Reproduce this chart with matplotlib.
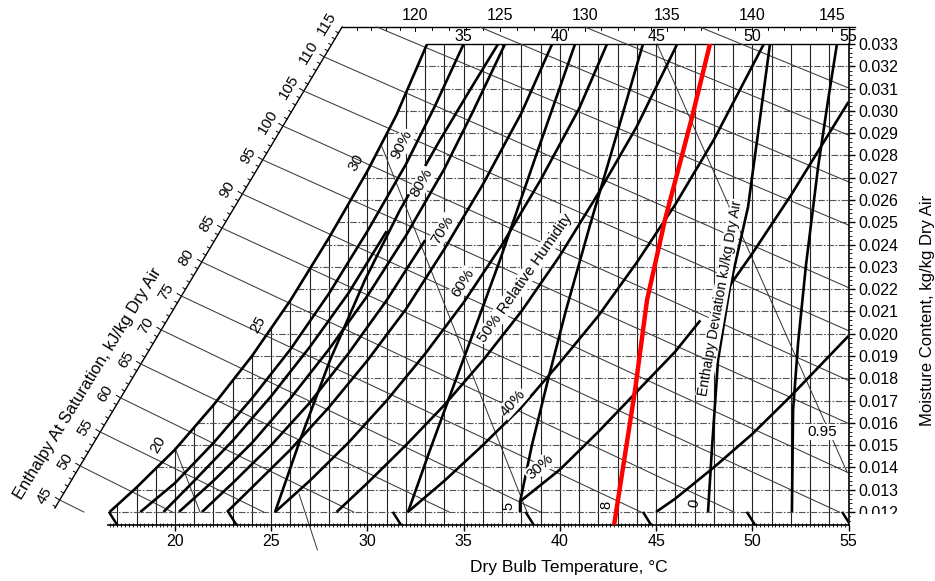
import numpy as np
import matplotlib
matplotlib.use("Agg")
import matplotlib.pyplot as plt
from matplotlib.ticker import MultipleLocator, FormatStrFormatter
from matplotlib.patches import Rectangle

plt.rcParams["font.family"] = ["Liberation Sans", "DejaVu Sans"]

# ---- values (dry bulb degC, moisture kg/kg) ----
sat_T = [16.6, 18.0, 20.0, 22.0, 24.0, 26.0, 28.0, 30.0, 31.5, 33.1]
sat_w = [0.0120, 0.0131, 0.0148, 0.0168, 0.0190, 0.0215, 0.0243, 0.0273, 0.0298, 0.0330]

rh90_T = [18.2, 20.0, 22.0, 24.0, 26.0, 28.0, 30.0, 32.0, 33.5, 35.0]
rh90_w = [0.0120, 0.0133, 0.0151, 0.0171, 0.0193, 0.0218, 0.0246, 0.0276, 0.0302, 0.0330]
rh85_T = [19.4, 21.0, 23.0, 25.0, 27.0, 29.0, 31.0]
rh85_w = [0.0120, 0.0134, 0.0152, 0.0172, 0.0194, 0.0218, 0.0246]
rh80_T = [20.2, 22.0, 24.0, 26.0, 28.0, 30.0, 32.0, 34.0, 35.5, 37.15]
rh80_w = [0.0120, 0.0134, 0.0151, 0.0171, 0.0193, 0.0217, 0.0244, 0.0274, 0.0300, 0.0330]
rh75_T = [21.4, 23.0, 25.0, 27.0, 29.0, 31.0, 33.0]
rh75_w = [0.0120, 0.0133, 0.0150, 0.0169, 0.0191, 0.0215, 0.0242]
rh70_T = [22.7, 24.0, 26.0, 28.0, 30.0, 32.0, 34.0, 36.0, 38.0, 39.6]
rh70_w = [0.0120, 0.0131, 0.0148, 0.0167, 0.0188, 0.0211, 0.0238, 0.0267, 0.0299, 0.0330]
rh60_T = [25.2, 27.0, 29.0, 31.0, 33.0, 35.0, 37.0, 39.0, 41.0, 42.45]
rh60_w = [0.0120, 0.0134, 0.0151, 0.0170, 0.0191, 0.0214, 0.0240, 0.0269, 0.0301, 0.0330]
rh50_T = [28.4, 30.0, 32.0, 34.0, 36.0, 38.0, 40.0, 42.0, 44.0, 46.1]
rh50_w = [0.0120, 0.0133, 0.0150, 0.0168, 0.0188, 0.0210, 0.0235, 0.0263, 0.0293, 0.0330]
rh40_T = [32.1, 34.0, 36.0, 38.0, 40.0, 42.0, 44.0, 46.0, 48.0, 50.6]
rh40_w = [0.0120, 0.0134, 0.0150, 0.0167, 0.0187, 0.0208, 0.0232, 0.0258, 0.0287, 0.0330]
rh30a_T = [37.9, 40.0, 42.0, 44.0, 46.0, 47.3]
rh30a_w = [0.01245, 0.0139, 0.0156, 0.0174, 0.0192, 0.0206]
rh30b_T = [48.7, 50.0, 52.0, 54.0, 55.0]
rh30b_w = [0.0220, 0.0236, 0.0262, 0.0290, 0.0304]
rh20_T = [45.0, 46.0, 48.0, 50.0, 52.0, 54.0, 55.0]
rh20_w = [0.0120, 0.0126, 0.0140, 0.0155, 0.0172, 0.0190, 0.0199]

# steep enthalpy deviation lines
dev1_T = [25.20, 26.50, 28.06, 29.87, 31.69, 33.77, 35.33, 36.79]
dev1_w = [0.0120, 0.01523, 0.01882, 0.02241, 0.02555, 0.02869, 0.03094, 0.0330]
dev2_T = [32.11, 33.25, 34.40, 35.75, 36.89, 38.86, 40.79]
dev2_w = [0.0120, 0.01478, 0.01748, 0.02062, 0.02331, 0.02824, 0.0330]
dev3_T = [37.93, 37.93, 38.55, 39.38, 40.32, 41.57, 42.87, 44.32]
dev3_w = [0.0120, 0.01245, 0.01501, 0.01792, 0.02106, 0.02488, 0.02869, 0.0330]
dev5_T = [47.70, 47.91, 48.22, 48.84, 49.78, 50.30, 50.92]
dev5_w = [0.0120, 0.01492, 0.01882, 0.02210, 0.02569, 0.02901, 0.0330]
dev6_T = [52.06, 52.12, 52.38, 52.79, 53.42, 53.94, 54.40]
dev6_w = [0.0120, 0.01658, 0.01958, 0.02308, 0.02748, 0.03049, 0.0330]

# red process line
red_T = [42.82, 43.91, 44.53, 45.46, 46.87, 47.80]
red_w = [0.01143, 0.01748, 0.02151, 0.02510, 0.02972, 0.0330]

# specific volume lines
vol85_T = [20.0, 21.3]
vol85_w = [0.01487, 0.0120]
vol90_T = [30.76, 38.29]
vol90_w = [0.02838, 0.0120]
vol95_T = [45.05, 54.92]
vol95_w = [0.0330, 0.0138]
stray_T = [26.45, 27.40]
stray_w = [0.0128, 0.0103]

# enthalpy at saturation scale (left, diagonal) and top scale
enth_h = [45, 50, 55, 60, 65, 70, 75, 80, 85, 90, 95, 100, 105, 110, 115]
enth_w = [0.01254, 0.01407, 0.01559, 0.01712, 0.01864, 0.02017, 0.02169, 0.02322,
          0.02474, 0.02627, 0.02780, 0.02932, 0.03089, 0.03242, 0.03376]
enth_slope = [0.50, 0.50, 0.49, 0.49, 0.48, 0.48, 0.47, 0.47, 0.46, 0.46, 0.45, 0.45, 0.44, 0.44]
top_h = [115, 120, 125, 130, 135, 140, 145]
top_h_T = [28.68, 32.47, 36.89, 41.31, 45.57, 49.99, 54.14]
top_line_T = [30.50, 35.85, 41.31, 47.28]
top_line_slope = [0.42, 0.42, 0.41, 0.41]
top_db = [35, 40, 45, 50, 55]
mark_T = [16.6, 22.8, 31.35, 38.25, 44.35, 49.75, 54.7]

# ---- layout ----
W_BOT, W_TOP, W_SCALE = 0.01143, 0.033, 0.03376
T_MIN, T_MAX = 16.5, 55.0
PX_T, PX_W = 1 / 19.243, 1 / 22286.0


def P(x, y):
    # position in the 935x581 picture -> data coordinates (for text placement)
    return 20 + (x - 175) * PX_T, 0.033 - (y - 44) * PX_W


fig = plt.figure(figsize=(9.35, 5.81), dpi=100)
ax = fig.add_axes([107.65 / 935, (581 - 524.7) / 581, (848.5 - 107.65) / 935, (524.7 - 44) / 581])
ax.set_xlim(T_MIN, T_MAX)
ax.set_ylim(W_BOT, W_TOP)
for s in ["left", "top"]:
    ax.spines[s].set_visible(False)
for s in ["bottom", "right"]:
    ax.spines[s].set_linewidth(1.2)

ax.xaxis.set_major_locator(MultipleLocator(5))
ax.xaxis.set_minor_locator(MultipleLocator(0.2))
ax.tick_params(axis="x", which="major", direction="out", length=4, width=1, labelsize=11.5, pad=3)
ax.tick_params(axis="x", which="minor", direction="inout", length=3, width=0.6)
ax.yaxis.tick_right()
ax.yaxis.set_major_locator(MultipleLocator(0.001))
ax.yaxis.set_minor_locator(MultipleLocator(0.0002))
ax.yaxis.set_major_formatter(FormatStrFormatter("%.3f"))
ax.tick_params(axis="y", which="major", direction="out", length=4, width=1, labelsize=11.5, pad=3)
ax.tick_params(axis="y", which="minor", direction="out", length=2, width=0.6)

# grid, bounded by the saturation curve
for T in range(17, 55):
    top = min(np.interp(T, sat_T, sat_w), W_TOP)
    ax.plot([T, T], [W_BOT, top], color="#222222", lw=0.8, zorder=1)
for w in np.arange(0.012, 0.0325, 0.001):
    ax.plot([np.interp(w, sat_w, sat_T), T_MAX], [w, w], color="#555555", lw=0.8,
            dashes=(6, 1.5, 1.5, 1.5), zorder=1)

# top frame lines
ax.plot([sat_T[-1], T_MAX], [W_TOP, W_TOP], color="black", lw=1.0, clip_on=False)
sc_T0, sc_T1, sc_W0 = 13.76, 28.68, 0.01218
ax.plot([sc_T1, 55.35], [W_SCALE, W_SCALE], color="black", lw=1.0, clip_on=False)
ax.plot([T_MAX, T_MAX], [W_TOP, W_SCALE], color="black", lw=1.0, clip_on=False)


def scale_T(w):
    return sc_T0 + (w - sc_W0) / (W_SCALE - sc_W0) * (sc_T1 - sc_T0)


def wet_line(T0, w0, s_px):
    k = s_px * 19.243 * PX_W
    T1 = min(T_MAX, T0 + (w0 - 0.012) / k)
    ax.plot([T0, T1], [w0, w0 - k * (T1 - T0)], color="#3a3a3a", lw=0.75,
            clip_on=False, zorder=2)


# left diagonal scale
ax.plot([sc_T0, sc_T1], [sc_W0, W_SCALE], color="black", lw=1.0, clip_on=False)
nx, ny = -0.859 * PX_T, 0.512 * PX_W
for h in range(44, 115):
    w = np.interp(h, enth_h, enth_w, left=enth_w[0] - 0.000305)
    T = scale_T(w)
    L = 5 if h % 5 == 0 else 3
    ax.plot([T, T + nx * L], [w, w + ny * L], color="black", lw=0.7, clip_on=False)
for h, w in zip(enth_h, enth_w):
    ax.annotate(str(h), (scale_T(w), w), xytext=(-15, 4), textcoords="offset pixels",
                rotation=59, ha="center", va="center", fontsize=11, annotation_clip=False)
for w, s in zip(enth_w[:-1], enth_slope):
    wet_line(scale_T(w), w, s)

# top scale
for h in range(116, 146):
    T = np.interp(h, top_h, top_h_T)
    L = 4 if h % 5 == 0 else 2.5
    ax.plot([T, T], [W_SCALE, W_SCALE - L * PX_W], color="black", lw=0.7, clip_on=False)
for h, T in zip(top_h[1:], top_h_T[1:]):
    ax.annotate(str(h), (T, W_SCALE), xytext=(0, 12), textcoords="offset pixels",
                ha="center", va="center", fontsize=11.5, annotation_clip=False)
for T, s in zip(top_line_T, top_line_slope):
    wet_line(T, W_SCALE, s)
for t in top_db:
    ax.text(t, P(0, 36)[1], str(t), ha="center", va="center", fontsize=11.5)

# volume lines
for vT, vw in [(vol85_T, vol85_w), (vol90_T, vol90_w), (vol95_T, vol95_w), (stray_T, stray_w)]:
    ax.plot(vT, vw, color="#333333", lw=0.7, clip_on=False, zorder=2)

# thick curves
thick = dict(color="black", lw=1.9, zorder=3, solid_capstyle="butt")
for cT, cw in [(sat_T, sat_w), (rh90_T, rh90_w), (rh85_T, rh85_w), (rh80_T, rh80_w),
               (rh75_T, rh75_w), (rh70_T, rh70_w), (rh60_T, rh60_w), (rh50_T, rh50_w),
               (rh40_T, rh40_w), (rh30a_T, rh30a_w), (rh30b_T, rh30b_w), (rh20_T, rh20_w),
               (dev1_T, dev1_w), (dev2_T, dev2_w), (dev3_T, dev3_w), (dev5_T, dev5_w),
               (dev6_T, dev6_w)]:
    ax.plot(cT, cw, **thick)
for T in mark_T:
    ax.plot([T, T + 7 * PX_T], [0.01196, 0.01146], color="black", lw=1.8, zorder=3)

ax.plot(red_T, red_w, color="#ff0000", lw=3.2, zorder=6, solid_capstyle="butt")

# labels
box = dict(facecolor="white", edgecolor="none", pad=0.8)
for txt, x, y, rot in [("90%", 402, 145, 63), ("80%", 422, 183, 60), ("70%", 443, 230, 59),
                       ("60%", 463, 283, 58), ("50% Relative Humidity", 525, 278, 55),
                       ("40%", 513, 403, 48), ("30%", 540, 467, 42)]:
    ax.text(*P(x, y), txt, rotation=rot, ha="center", va="center", fontsize=11,
            bbox=box, zorder=5, rotation_mode="anchor")
for txt, x, y in [("30", 356, 163), ("25", 258, 325), ("20", 158, 445)]:
    ax.text(*P(x, y), txt, rotation=60, ha="center", va="center", fontsize=11, zorder=5)
for txt, x, y, rot in [("5", 508, 506, 90), ("8", 606, 505, 90), ("0", 694, 503, 80)]:
    ax.text(*P(x, y), txt, rotation=rot, ha="center", va="center", fontsize=10.5, zorder=5)
ax.text(*P(822, 432), "0.95", ha="center", va="center", fontsize=11, bbox=box, zorder=5)
ax.text(*P(720, 298), "Enthalpy Deviation kJ/kg Dry Air", rotation=80, ha="center",
        va="center", fontsize=10, bbox=dict(facecolor="white", edgecolor="none", pad=0.5),
        zorder=5, rotation_mode="anchor")

ax.text(*P(569, 568), "Dry Bulb Temperature, \u00b0C", ha="center", va="center", fontsize=12.5)
ax.text(*P(928, 310), "Moisture Content, kg/kg Dry Air", rotation=90, ha="center",
        va="center", fontsize=12)
ax.text(*P(88, 384), "Enthalpy At Saturation, kJ/kg Dry Air", rotation=58.5, ha="center",
        va="center", fontsize=12, rotation_mode="anchor")

# scan gap hiding the lower half of the last moisture label
fig.patches.append(Rectangle((851 / 935, (581 - 522) / 581), 84 / 935, 8.5 / 581,
                             transform=fig.transFigure, facecolor="white",
                             edgecolor="none", zorder=10))

fig.savefig("out.png", dpi=100)
